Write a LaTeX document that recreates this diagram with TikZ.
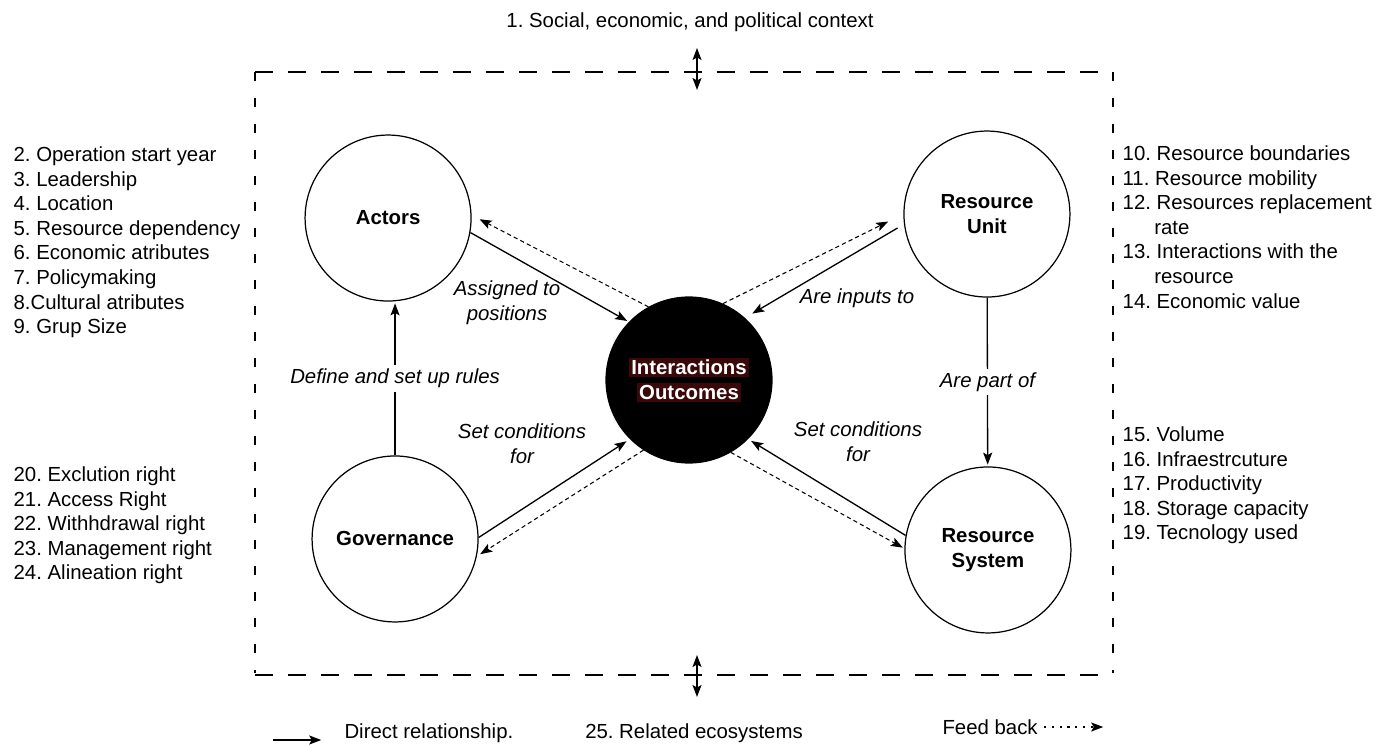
\documentclass[tikz,border=0pt]{standalone}
\usepackage{fontspec}
\setmainfont{Liberation Sans}
\usetikzlibrary{arrows.meta,automata,positioning}
\definecolor{hlred}{RGB}{58,8,8}
\setlength{\fboxsep}{1.2pt}
\frenchspacing
\newcommand{\dgfont}{\fontsize{11.6pt}{14pt}\selectfont}

\begin{document}
\begin{tikzpicture}[
    x = 0.02cm, y = -0.02cm, % one unit = one pixel of the sketch
    > = {Stealth[length=2.4mm,width=1.8mm,inset=0.5mm]}, % arrow head style
    shorten > = 1pt, % don't touch arrow head to node
    on grid, % centre to centre distances
    line width = 0.75pt, % line style
    every node/.style = {font=\dgfont},
    ]

    \tikzset{
    every state/.style = {
    draw = black,
    line width = 0.7pt,
    fill = white,
    minimum size = 3.32cm,
    inner sep = 0pt,
    align = center,
    font = \dgfont\bfseries
    },
    feed/.style = {->, dash pattern = on 2.4pt off 1.8pt, line width = 0.6pt},
    lbl/.style = {align = center, font = \dgfont\itshape},
    lst/.style = {align = left, anchor = north west, inner sep = 0pt},
    hdash/.style = {dash pattern = on 0.36cm off 0.3cm},
    vdash/.style = {dash pattern = on 0.18cm off 0.34cm}
    }

    \useasboundingbox (0,0) rectangle (1389,746);

    % context box
    \coordinate (bxNW) at (255,72);
    \coordinate (bxSE) at (1113,675);
    \draw[hdash] (bxNW) -- (bxNW -| bxSE);
    \draw[hdash] (bxNW |- bxSE) -- (bxSE);
    \draw[vdash] (bxNW) -- (bxNW |- bxSE);
    \draw[vdash] (bxNW -| bxSE) -- (bxSE);

    \node[state, fill=black, text=white] (outcome) at (689,380) {\colorbox{hlred}{Interactions}\\\colorbox{hlred}{Outcomes}};
    \node[state] (actors) [above left=3.24cm and 6.02cm of outcome] {Actors};
    \node[state] (unit) [above right=3.32cm and 5.96cm of outcome] {Resource\\Unit};
    \node[state] (govern) [below left=3.18cm and 5.88cm of outcome] {Governance};
    \node[state] (system) [below right=3.40cm and 5.98cm of outcome] {Resource\\System};

    \node[lbl] (assigned) at (507,303) {Assigned to\\positions};
    \node[lbl] (inputs) at (857,298) {Are inputs to};
    \node[lbl] (condL) at (522,444) {Set conditions\\for};
    \node[lbl] (condR) at (858,442) {Set conditions\\for};

    \path[->] (actors.-10) edge[shorten > = 0.04cm] (outcome.136);
    \path[feed] (outcome.119) edge[shorten > = 0.18cm] (actors.2);
    \path[->] (unit.187) edge[shorten < = 0.15cm, shorten > = 0.17cm] (outcome.48);
    \path[feed] (outcome.66) edge[shorten > = 0.34cm] (unit.180);
    \path[->] (govern.1) edge[shorten > = 0.08cm] (outcome.225);
    \path[feed] (outcome.237) edge[shorten > = 0.08cm] (govern.-12);
    \path[->] (system.170) edge[shorten > = 0.07cm] (outcome.-45);
    \path[feed] (outcome.-60) edge (system.179);

    \path[->] (govern.north) edge node[lbl, fill=white, inner sep=2pt] {Define and set up rules} (actors.south -| govern.north);
    \path[->] (unit) edge node[lbl, fill=white, inner sep=2pt] {Are part of} (system);

    % attribute lists
    \node[lst] (actlist) at (13,146) {2. Operation start year\\3. Leadership\\4. Location\\5. Resource dependency\\6. Economic atributes\\7. Policymaking\\8.Cultural atributes\\9. Grup Size};
    \node[lst] (govlist) at (13,466) {20. Exclution right\\21. Access Right\\22. Withhdrawal right\\23. Management right\\24. Alineation right};
    \node[lst] (unitlist) at (1122,145) {10. Resource boundaries\\11. Resource mobility\\12. Resources replacement\\\hspace*{18pt}rate\\13. Interactions with the\\\hspace*{18pt}resource\\14. Economic value};
    \node[lst] (syslist) at (1122,426) {15. Volume\\16. Infraestrcuture\\17. Productivity\\18. Storage capacity\\19. Tecnology used};

    \node (context) at (690,22) {1. Social, economic, and political context};
    \coordinate (topA) at (697,48);
    \coordinate (topB) at (697,90);
    \draw[<->, shorten > = 0pt] (topA) -- (topB);
    \coordinate (botA) at (697,655);
    \coordinate (botB) at (697,697);
    \draw[<->, shorten > = 0pt] (botA) -- (botB);

    % legend
    \coordinate (lgA) at (273,740);
    \coordinate (lgB) at (323,740);
    \draw[->] (lgA) -- (lgB);
    \node[anchor=west] (direct) at (338,733) {Direct relationship.};
    \node (related) at (694,733) {25. Related ecosystems};
    \node[anchor=west] (feedback) at (936,727) {Feed back};
    \coordinate (fbEnd) at (1105,727);
    \draw[->, dash pattern = on 1.2pt off 3.2pt, line width=0.9pt] (feedback.east) -- (fbEnd);
\end{tikzpicture}
\end{document}
